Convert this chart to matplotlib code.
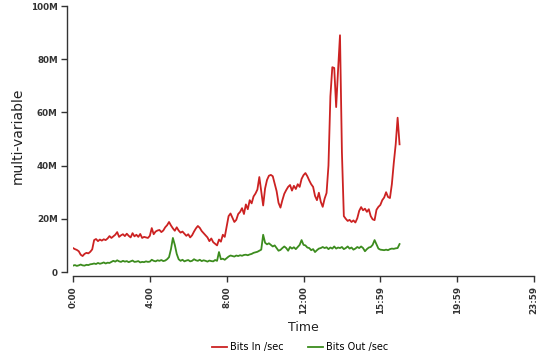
import numpy as np
import matplotlib
matplotlib.use("Agg")
import matplotlib.pyplot as plt

# samples every 6 minutes, 0:00 -> 17:00 (hours)
hours = np.arange(0, 17.05, 0.1)

bits_in = [
    9.0, 8.6, 8.3, 7.8, 6.5, 6.0, 6.8, 7.2, 7.0, 7.6,
    8.5, 12.0, 12.4, 11.6, 12.2, 11.8, 12.3, 12.0, 12.6, 13.5,
    12.8, 13.4, 14.0, 15.0, 13.2, 13.8, 14.2, 13.5, 14.4, 13.6,
    13.0, 14.6, 13.4, 14.0, 13.2, 14.3, 12.8, 13.2, 13.0, 12.8,
    13.6, 16.5, 14.2, 15.2, 15.6, 15.8, 15.0, 15.6, 16.8, 17.6,
    18.8, 17.5, 16.4, 15.5, 16.8, 15.6, 14.8, 15.2, 14.4, 13.6,
    14.2, 13.0, 13.8, 15.2, 16.4, 17.3, 16.6, 15.4, 14.6, 13.8,
    13.0, 11.6, 12.6, 11.2, 10.6, 10.0, 12.2, 11.4, 14.0, 13.2,
    17.0, 21.0, 22.0, 20.4, 18.8, 19.6, 21.8, 22.6, 24.0, 21.8,
    25.4, 23.6, 27.0, 25.8, 28.4, 29.5, 31.0, 35.7, 30.2, 25.0,
    31.4, 34.6, 36.2, 36.5, 36.0, 33.2, 30.4, 26.0, 24.2, 27.0,
    29.4, 30.8, 32.0, 32.7, 30.6, 32.4, 31.2, 33.0, 32.0, 35.0,
    36.4, 37.2, 36.0, 34.4, 33.0, 32.0, 28.6, 27.0, 29.8, 26.4,
    24.5, 27.6, 29.7, 40.0, 66.0, 77.0, 76.7, 62.0, 76.0, 89.0,
    45.0, 21.0, 20.0, 19.2, 19.6, 18.8, 19.4, 18.6, 20.2, 23.0,
    24.4, 23.2, 23.8, 22.6, 23.6, 21.0, 19.8, 19.5, 23.4, 24.5,
    25.2, 27.0, 28.0, 30.0, 28.2, 27.8, 33.0, 41.0, 48.0, 58.0,
    48.0,
]

bits_out = [
    2.4, 2.6, 2.3, 2.5, 2.8, 2.5, 2.4, 2.7, 2.6, 2.9,
    3.0, 3.2, 3.0, 3.4, 3.1, 3.3, 3.6, 3.2, 3.5, 3.4,
    3.8, 4.2, 3.9, 4.4, 4.0, 3.8, 4.2, 3.9, 4.1, 3.7,
    4.0, 4.3, 3.8, 3.9, 4.1, 3.6, 3.8, 3.7, 4.0, 3.8,
    3.9, 4.6, 4.2, 4.0, 4.4, 4.2, 4.5, 4.1, 4.3, 4.8,
    5.6, 8.6, 12.8, 10.2, 6.8, 4.8, 4.2, 4.6, 4.0, 4.3,
    4.5, 4.0, 4.2, 4.8, 4.4, 4.2, 4.6, 4.1, 4.4, 4.2,
    3.9, 4.3, 4.1, 4.0, 4.5, 4.2, 7.5, 4.8, 5.0, 4.6,
    5.2, 5.8, 6.2, 6.0, 5.8, 6.2, 6.0, 6.3, 6.1, 6.4,
    6.5, 6.3, 6.6, 6.8, 7.2, 7.4, 7.6, 8.0, 8.4, 14.0,
    11.0, 10.4, 10.8, 10.2, 9.6, 10.0, 9.0, 8.0, 8.3, 9.0,
    9.6, 9.0, 8.0, 9.4, 8.8, 9.3, 8.6, 9.4, 10.2, 12.0,
    10.2, 10.0, 9.2, 9.0, 8.2, 8.6, 7.5, 8.2, 8.8, 9.0,
    9.4, 9.0, 9.3, 8.6, 9.2, 8.8, 9.6, 8.8, 9.2, 9.0,
    9.4, 8.6, 9.0, 9.6, 8.8, 9.2, 8.4, 8.8, 9.4, 9.0,
    9.6, 9.0, 7.8, 8.6, 9.2, 9.4, 10.2, 12.0, 10.4, 8.8,
    8.4, 8.3, 8.2, 8.4, 8.2, 8.6, 8.8, 8.7, 8.9, 9.0,
    10.5,
]

tick_hours = [0, 4, 8, 12, 16, 20, 24]
tick_labels = ["0:00", "4:00", "8:00", "12:00", "15:59", "19:59", "23:59"]
y_ticks = [0, 20, 40, 60, 80, 100]
y_labels = ["0", "20M", "40M", "60M", "80M", "100M"]

red = "#cc2222"
green = "#3c8c1e"
axis_col = "#333333"

fig = plt.figure(figsize=(5.4, 3.6), dpi=100)
ax = fig.add_axes([73 / 540, 88 / 360, 461 / 540, 266 / 360])

ax.plot(hours, bits_in, color=red, lw=1.3, label="Bits In /sec")
ax.plot(hours, bits_out, color=green, lw=1.3, label="Bits Out /sec")

ax.set_xlim(0, 24)
ax.set_ylim(0, 100)

for s in ["top", "right"]:
    ax.spines[s].set_visible(False)
ax.spines["left"].set_position(("outward", 4))
ax.spines["bottom"].set_position(("outward", 3))
for s in ["left", "bottom"]:
    ax.spines[s].set_color(axis_col)
    ax.spines[s].set_linewidth(1.0)
ax.spines["left"].set_bounds(0, 100)

ax.set_xticks(tick_hours)
ax.set_xticklabels(tick_labels, rotation=90, fontsize=6.3, fontweight="bold", color=axis_col)
ax.set_yticks(y_ticks)
ax.set_yticklabels(y_labels, fontsize=6.3, fontweight="bold", color=axis_col)
ax.tick_params(length=4, width=1.0, color=axis_col, pad=3)

ax.set_xlabel("Time", fontsize=9, color="#222222", labelpad=5)
fig.text(18 / 540, (360 - 136) / 360, "multi-variable", rotation=90,
         ha="center", va="center", fontsize=10, color="#222222")

fig.legend(loc="center", bbox_to_anchor=(300 / 540, 13 / 360), ncol=2, frameon=False,
           fontsize=7, handlelength=1.55, handletextpad=0.3, columnspacing=2.5)

fig.savefig("out.png", dpi=100)
